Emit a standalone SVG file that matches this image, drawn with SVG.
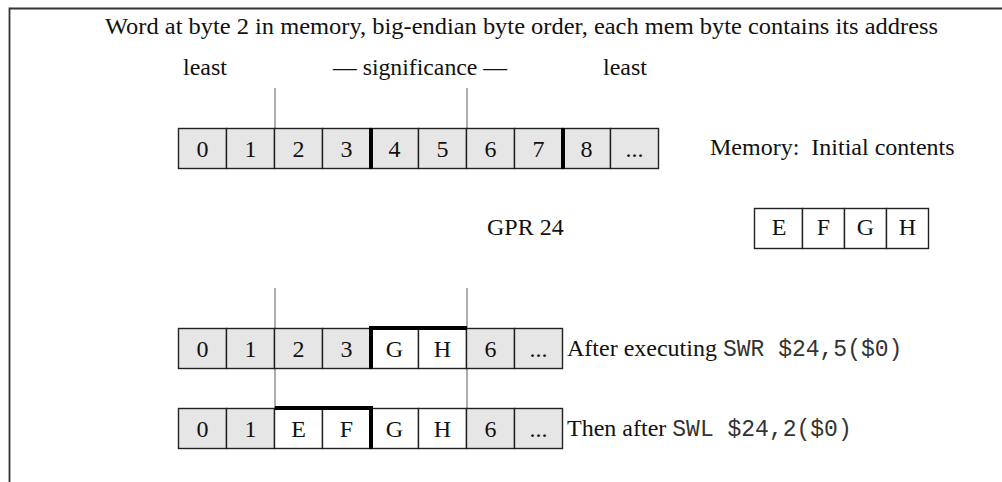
<svg xmlns="http://www.w3.org/2000/svg" width="1002" height="482" viewBox="0 0 1002 482">
<style>
text{font-family:"Liberation Serif","Times New Roman",serif;font-size:24px;fill:#111}
.c{text-anchor:middle}
.m{font-family:"Liberation Mono","Courier New",monospace;font-size:23px;fill:#333}
.g{fill:#e6e6e6;stroke:#222;stroke-width:1.4}
.w{fill:#fff;stroke:#222;stroke-width:1.4}
.thick{stroke:#000;stroke-width:4}
.guide{stroke:#777;stroke-width:1.2}
.frame{stroke:#333;stroke-width:1.8;fill:none}
</style>
<g id="frame"><path class="frame" d="M9.5 482 V8.5 H1002"/></g>
<g id="title"><text x="105" y="34" textLength="833" lengthAdjust="spacingAndGlyphs">Word at byte 2 in memory, big-endian byte order, each mem byte contains its address</text></g>
<g id="significance">
<text x="183" y="75">least</text>
<text x="333" y="75" textLength="174" lengthAdjust="spacingAndGlyphs">— significance —</text>
<text x="603" y="75">least</text>
</g>
<g id="connectors">
<line class="guide" x1="275" y1="88" x2="275" y2="128"/>
<line class="guide" x1="467" y1="88" x2="467" y2="128"/>
<line class="guide" x1="275" y1="288" x2="275" y2="328"/>
<line class="guide" x1="467" y1="288" x2="467" y2="328"/>
<line class="guide" x1="275" y1="368" x2="275" y2="408"/>
<line class="guide" x1="467" y1="368" x2="467" y2="408"/>
</g>
<g id="memory-initial">
<rect class="g" x="178.5" y="128.5" width="48" height="40"/>
<rect class="g" x="226.5" y="128.5" width="48" height="40"/>
<rect class="g" x="274.5" y="128.5" width="48" height="40"/>
<rect class="g" x="322.5" y="128.5" width="48" height="40"/>
<rect class="g" x="370.5" y="128.5" width="48" height="40"/>
<rect class="g" x="418.5" y="128.5" width="48" height="40"/>
<rect class="g" x="466.5" y="128.5" width="48" height="40"/>
<rect class="g" x="514.5" y="128.5" width="48" height="40"/>
<rect class="g" x="562.5" y="128.5" width="48" height="40"/>
<rect class="g" x="610.5" y="128.5" width="48" height="40"/>
<line class="thick" x1="371" y1="128" x2="371" y2="169"/>
<line class="thick" x1="563" y1="128" x2="563" y2="169"/>
<text class="c" x="202.5" y="157">0</text>
<text class="c" x="250.5" y="157">1</text>
<text class="c" x="298.5" y="157">2</text>
<text class="c" x="346.5" y="157">3</text>
<text class="c" x="394.5" y="157">4</text>
<text class="c" x="442.5" y="157">5</text>
<text class="c" x="490.5" y="157">6</text>
<text class="c" x="538.5" y="157">7</text>
<text class="c" x="586.5" y="157">8</text>
<text class="c" x="634.5" y="157">...</text>
</g>
<g id="memory-label"><text x="710" y="155" xml:space="preserve">Memory:  Initial contents</text></g>
<g id="gpr-label"><text x="487" y="235">GPR 24</text></g>
<g id="gpr24">
<rect class="w" x="754.5" y="208.5" width="48" height="40"/>
<rect class="w" x="802.5" y="208.5" width="42" height="40"/>
<rect class="w" x="844.5" y="208.5" width="42" height="40"/>
<rect class="w" x="886.5" y="208.5" width="42" height="40"/>
<text class="c" x="779" y="235">E</text>
<text class="c" x="823.5" y="235">F</text>
<text class="c" x="865.5" y="235">G</text>
<text class="c" x="907.5" y="235">H</text>
</g>
<g id="memory-after-swr">
<rect class="g" x="178.5" y="328.5" width="48" height="40"/>
<rect class="g" x="226.5" y="328.5" width="48" height="40"/>
<rect class="g" x="274.5" y="328.5" width="48" height="40"/>
<rect class="g" x="322.5" y="328.5" width="48" height="40"/>
<rect class="w" x="370.5" y="328.5" width="48" height="40"/>
<rect class="w" x="418.5" y="328.5" width="48" height="40"/>
<rect class="g" x="466.5" y="328.5" width="48" height="40"/>
<rect class="g" x="514.5" y="328.5" width="48" height="40"/>
<line class="thick" x1="371" y1="326" x2="371" y2="369"/>
<line class="thick" x1="369" y1="328" x2="467" y2="328"/>
<text class="c" x="202.5" y="357">0</text>
<text class="c" x="250.5" y="357">1</text>
<text class="c" x="298.5" y="357">2</text>
<text class="c" x="346.5" y="357">3</text>
<text class="c" x="394.5" y="357">G</text>
<text class="c" x="442.5" y="357">H</text>
<text class="c" x="490.5" y="357">6</text>
<text class="c" x="538.5" y="357">...</text>
</g>
<g id="swr-label"><text x="567" y="356">After executing <tspan class="m">SWR $24,5($0)</tspan></text></g>
<g id="memory-after-swl">
<rect class="g" x="178.5" y="408.5" width="48" height="40"/>
<rect class="g" x="226.5" y="408.5" width="48" height="40"/>
<rect class="w" x="274.5" y="408.5" width="48" height="40"/>
<rect class="w" x="322.5" y="408.5" width="48" height="40"/>
<rect class="w" x="370.5" y="408.5" width="48" height="40"/>
<rect class="w" x="418.5" y="408.5" width="48" height="40"/>
<rect class="g" x="466.5" y="408.5" width="48" height="40"/>
<rect class="g" x="514.5" y="408.5" width="48" height="40"/>
<line class="thick" x1="371" y1="406" x2="371" y2="449"/>
<line class="thick" x1="275" y1="408" x2="373" y2="408"/>
<text class="c" x="202.5" y="437">0</text>
<text class="c" x="250.5" y="437">1</text>
<text class="c" x="298.5" y="437">E</text>
<text class="c" x="346.5" y="437">F</text>
<text class="c" x="394.5" y="437">G</text>
<text class="c" x="442.5" y="437">H</text>
<text class="c" x="490.5" y="437">6</text>
<text class="c" x="538.5" y="437">...</text>
</g>
<g id="swl-label"><text x="567" y="436">Then after <tspan class="m">SWL $24,2($0)</tspan></text></g>
</svg>
